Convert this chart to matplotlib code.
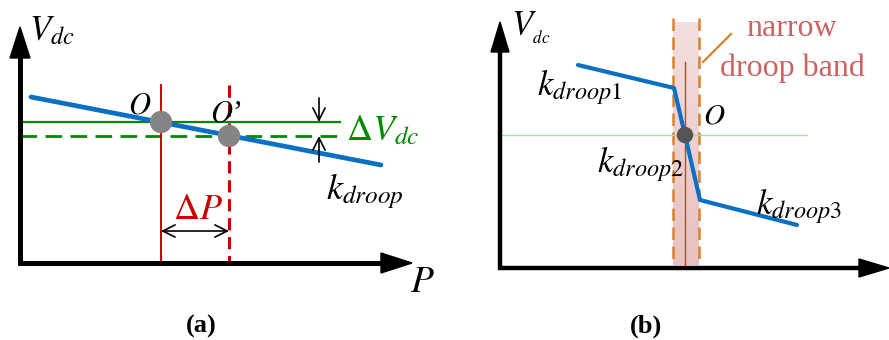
import numpy as np
import matplotlib
matplotlib.use("Agg")
import matplotlib.pyplot as plt
from matplotlib.patches import Polygon, Circle

plt.rcParams['mathtext.fontset'] = 'stix'
plt.rcParams['font.family'] = ['Liberation Serif', 'DejaVu Serif']

# ---- panel (a): single droop line, operating point shift ----
a_droop_p = [31, 381]
a_droop_v = [97, 165]
a_points_p = [161, 229]          # O, O'
a_points_v = [122, 136]
a_point_labels = ["$O$", "$O$\u2019"]

# ---- panel (b): piecewise droop with narrow band ----
b_droop_p = [578, 674, 685, 700, 797]
b_droop_v = [65, 88, 135, 200, 225]
b_point = (685, 135)
b_band = (673, 699)
b_droop_labels = ["$k_{droop1}$", "$k_{droop2}$", "$k_{droop3}$"]

BLUE = "#0a70c4"
GREEN = "#008a00"
RED = "#c80000"
GRAY = "#858585"
ORANGE = "#d9822b"

fig = plt.figure(figsize=(8.89, 3.40), dpi=100)
ax = fig.add_axes([0, 0, 1, 1])
ax.set_xlim(0, 889)
ax.set_ylim(340, 0)
ax.axis("off")


def axes_arrows(x0, y0, ytop, xright, lw, hw, hl):
    ax.plot([x0, x0], [y0 + 2, ytop + hl - 2], color="k", lw=lw, solid_capstyle="butt", zorder=5)
    ax.plot([x0 - 2, xright - hl + 2], [y0, y0], color="k", lw=lw, solid_capstyle="butt", zorder=5)
    ax.add_patch(Polygon([[x0, ytop], [x0 - hw, ytop + hl], [x0 + hw, ytop + hl]],
                         closed=True, color="k", zorder=5))
    ax.add_patch(Polygon([[xright, y0], [xright - hl, y0 - hw], [xright - hl, y0 + hw]],
                         closed=True, color="k", zorder=5))


ARROW = dict(color="k", lw=1.2, mutation_scale=22, shrinkA=0, shrinkB=0)

# ===== panel (a) =====
axes_arrows(20, 263, 27, 412, 3.6, 10, 31)
ax.text(29, 40, "$V_{dc}$", fontsize=25, ha="left", va="baseline")
ax.text(410, 292, "$P$", fontsize=27, ha="left", va="baseline")

# reference levels
ax.plot([20, 340], [a_points_v[0]] * 2, color=GREEN, lw=1.6, zorder=2)
ax.plot([20, 340], [a_points_v[1]] * 2, color=GREEN, lw=2.0, dashes=(6, 3), zorder=2)
ax.plot([a_points_p[0]] * 2, [85, 263], color=RED, lw=1.4, zorder=2)
ax.plot([a_points_p[1]] * 2, [85, 263], color=RED, lw=2.2, dashes=(4, 2.2), zorder=2)

ax.plot(a_droop_p, a_droop_v, color=BLUE, lw=3.4, solid_capstyle="round", zorder=3)
for p, v in zip(a_points_p, a_points_v):
    ax.add_patch(Circle((p, v), 10.5, color=GRAY, zorder=4))
ax.text(140, 113, a_point_labels[0], fontsize=22, ha="center", va="baseline")
ax.text(226, 121, a_point_labels[1], fontsize=22, ha="center", va="baseline")

# delta V arrows
ax.annotate("", xy=(319, a_points_v[0]), xytext=(319, 98),
            arrowprops=dict(arrowstyle="->", **ARROW))
ax.annotate("", xy=(319, a_points_v[1]), xytext=(319, 162),
            arrowprops=dict(arrowstyle="->", **ARROW))
ax.text(346, 140, r"$\Delta V_{dc}$", fontsize=26, color=GREEN, ha="left", va="baseline")
ax.text(326, 199, "$k_{droop}$", fontsize=26, ha="left", va="baseline")

# delta P arrow
ax.annotate("", xy=(a_points_p[0], 231), xytext=(a_points_p[1], 231),
            arrowprops=dict(arrowstyle="<->", **ARROW))
ax.text(198, 219, r"$\Delta P$", fontsize=26, color=RED, ha="center", va="baseline")

ax.text(201, 333, "(a)", fontsize=19, fontweight="bold", ha="center", va="baseline")

# ===== panel (b) =====
axes_arrows(500, 268, 22, 889, 3.2, 9, 30)
ax.text(511, 36, "$V_{{}_{dc}}$", fontsize=25, ha="left", va="baseline")

# shaded band, denser toward the bottom
grad = np.linspace(0.28, 0.55, 200).reshape(-1, 1)
rgba = np.zeros((200, 1, 4))
rgba[..., 0] = 0.84
rgba[..., 1] = 0.55
rgba[..., 2] = 0.55
rgba[..., 3] = grad
ax.imshow(rgba, extent=(b_band[0], b_band[1], 265, 22), aspect="auto", zorder=1,
          interpolation="bilinear")
for xb in b_band:
    ax.plot([xb, xb], [18, 265], color=ORANGE, lw=1.8, dashes=(5, 2.6), zorder=2)
ax.plot([b_point[0]] * 2, [62, 265], color="#ee3030", lw=1.0, zorder=2)
ax.plot([500, 807], [b_point[1]] * 2, color="#9be0a8", lw=1.0, zorder=2)

ax.plot(b_droop_p, b_droop_v, color=BLUE, lw=3.0, solid_joinstyle="round",
        solid_capstyle="round", zorder=3)
ax.add_patch(Circle(b_point, 7.5, color="#555555", zorder=4))
ax.text(714, 124, "$O$", fontsize=21, ha="center", va="baseline")

ax.text(537, 95, b_droop_labels[0], fontsize=25, ha="left", va="baseline")
ax.text(597, 172, b_droop_labels[1], fontsize=25, ha="left", va="baseline")
ax.text(756, 214, b_droop_labels[2], fontsize=25, ha="left", va="baseline")

ax.plot([703, 731], [62, 34], color=ORANGE, lw=1.6, zorder=2)
ax.text(792, 36, "narrow", fontsize=23, color="#cd6262", ha="center", va="baseline")
ax.text(792, 76, "droop band", fontsize=23, color="#cd6262", ha="center", va="baseline")

ax.text(646, 333, "(b)", fontsize=19, fontweight="bold", ha="center", va="baseline")

fig.savefig("out.png", dpi=100)
